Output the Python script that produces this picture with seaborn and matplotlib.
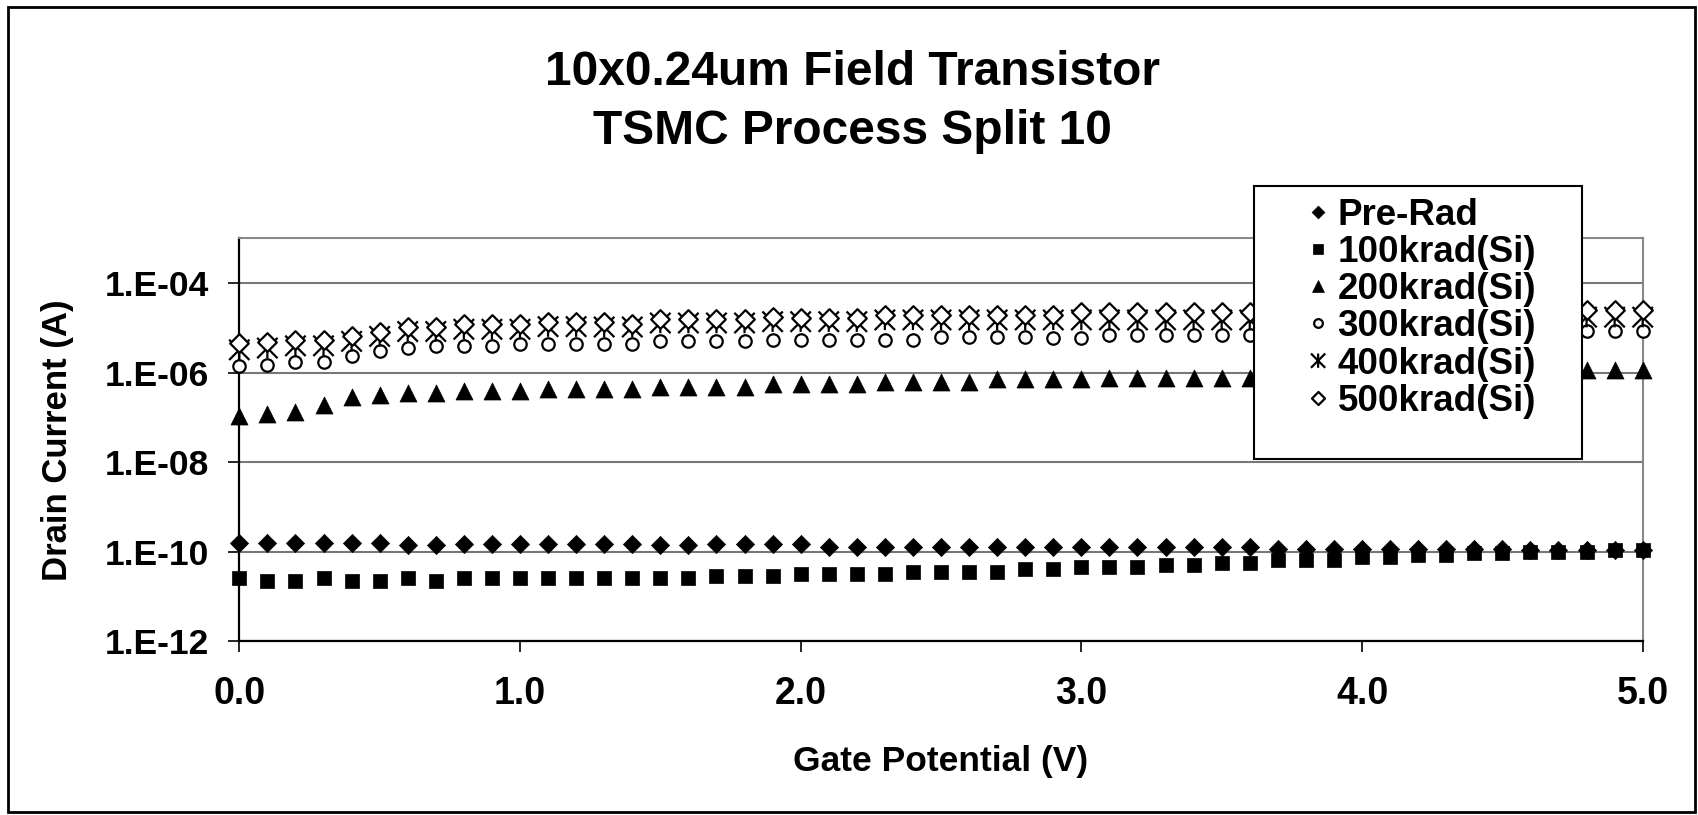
import numpy as np
import pandas as pd
import matplotlib
matplotlib.use("Agg")
import matplotlib.pyplot as plt
from matplotlib.path import Path
from matplotlib.patches import Rectangle
from matplotlib.ticker import NullLocator
import seaborn as sns

# ---------------- data ----------------
gate_v = [0.0, 0.1, 0.2, 0.3, 0.4, 0.5, 0.6, 0.7, 0.8, 0.9,
          1.0, 1.1, 1.2, 1.3, 1.4, 1.5, 1.6, 1.7, 1.8, 1.9,
          2.0, 2.1, 2.2, 2.3, 2.4, 2.5, 2.6, 2.7, 2.8, 2.9,
          3.0, 3.1, 3.2, 3.3, 3.4, 3.5, 3.6, 3.7, 3.8, 3.9,
          4.0, 4.1, 4.2, 4.3, 4.4, 4.5, 4.6, 4.7, 4.8, 4.9, 5.0]

pre_rad = [1.55e-10, 1.55e-10, 1.58e-10, 1.55e-10, 1.55e-10, 1.58e-10, 1.41e-10, 1.41e-10, 1.45e-10, 1.45e-10,
           1.45e-10, 1.45e-10, 1.45e-10, 1.45e-10, 1.45e-10, 1.41e-10, 1.41e-10, 1.45e-10, 1.45e-10, 1.45e-10,
           1.45e-10, 1.27e-10, 1.27e-10, 1.27e-10, 1.27e-10, 1.27e-10, 1.29e-10, 1.29e-10, 1.29e-10, 1.29e-10,
           1.29e-10, 1.29e-10, 1.29e-10, 1.29e-10, 1.29e-10, 1.29e-10, 1.29e-10, 1.12e-10, 1.12e-10, 1.12e-10,
           1.12e-10, 1.12e-10, 1.12e-10, 1.12e-10, 1.12e-10, 1.12e-10, 1.10e-10, 1.10e-10, 1.10e-10, 1.08e-10, 1.08e-10]

krad_100 = [2.51e-11, 2.24e-11, 2.24e-11, 2.51e-11, 2.24e-11, 2.24e-11, 2.51e-11, 2.24e-11, 2.51e-11, 2.51e-11,
            2.51e-11, 2.51e-11, 2.51e-11, 2.51e-11, 2.51e-11, 2.51e-11, 2.51e-11, 2.88e-11, 2.88e-11, 2.88e-11,
            3.16e-11, 3.16e-11, 3.16e-11, 3.16e-11, 3.55e-11, 3.55e-11, 3.55e-11, 3.55e-11, 4.07e-11, 4.07e-11,
            4.47e-11, 4.47e-11, 4.47e-11, 5.01e-11, 5.01e-11, 5.62e-11, 5.62e-11, 6.46e-11, 6.46e-11, 6.46e-11,
            7.41e-11, 7.41e-11, 8.51e-11, 8.51e-11, 9.12e-11, 9.12e-11, 1.00e-10, 1.00e-10, 1.00e-10, 1.10e-10, 1.10e-10]

krad_200 = [1.10e-7, 1.20e-7, 1.35e-7, 1.91e-7, 2.88e-7, 3.09e-7, 3.47e-7, 3.47e-7, 3.98e-7, 3.98e-7,
            3.98e-7, 4.37e-7, 4.37e-7, 4.37e-7, 4.37e-7, 4.90e-7, 4.90e-7, 4.90e-7, 4.90e-7, 5.62e-7,
            5.62e-7, 5.62e-7, 5.62e-7, 6.31e-7, 6.31e-7, 6.31e-7, 6.31e-7, 7.08e-7, 7.08e-7, 7.08e-7,
            7.08e-7, 7.59e-7, 7.59e-7, 7.59e-7, 7.59e-7, 7.59e-7, 7.59e-7, 7.9e-7, 8.1e-7, 8.3e-7,
            8.5e-7, 8.7e-7, 8.9e-7, 9.1e-7, 9.3e-7, 9.5e-7, 9.7e-7, 1.0e-6, 1.12e-6, 1.12e-6, 1.12e-6]

krad_300 = [1.38e-6, 1.51e-6, 1.74e-6, 1.74e-6, 2.40e-6, 3.09e-6, 3.55e-6, 3.89e-6, 3.89e-6, 3.98e-6,
            4.37e-6, 4.37e-6, 4.37e-6, 4.37e-6, 4.37e-6, 5.01e-6, 5.01e-6, 5.01e-6, 5.01e-6, 5.25e-6,
            5.25e-6, 5.25e-6, 5.25e-6, 5.37e-6, 5.37e-6, 6.17e-6, 6.17e-6, 6.17e-6, 6.17e-6, 5.89e-6,
            5.89e-6, 7.08e-6, 7.08e-6, 7.08e-6, 7.08e-6, 7.08e-6, 7.08e-6, 7.2e-6, 7.3e-6, 7.4e-6,
            7.6e-6, 7.7e-6, 7.8e-6, 8.0e-6, 8.1e-6, 8.3e-6, 8.4e-6, 8.6e-6, 8.71e-6, 8.71e-6, 8.71e-6]

krad_400 = [3.24e-6, 3.55e-6, 3.98e-6, 3.98e-6, 5.01e-6, 6.46e-6, 8.32e-6, 8.32e-6, 9.33e-6, 9.33e-6,
            9.33e-6, 1.07e-5, 1.07e-5, 1.05e-5, 1.05e-5, 1.29e-5, 1.29e-5, 1.29e-5, 1.29e-5, 1.38e-5,
            1.38e-5, 1.38e-5, 1.38e-5, 1.51e-5, 1.51e-5, 1.51e-5, 1.51e-5, 1.51e-5, 1.51e-5, 1.51e-5,
            1.51e-5, 1.51e-5, 1.51e-5, 1.51e-5, 1.51e-5, 1.51e-5, 1.51e-5, 1.53e-5, 1.55e-5, 1.57e-5,
            1.59e-5, 1.61e-5, 1.63e-5, 1.65e-5, 1.67e-5, 1.69e-5, 1.71e-5, 1.72e-5, 1.74e-5, 1.74e-5, 1.74e-5]

krad_500 = [4.57e-6, 4.79e-6, 5.37e-6, 5.37e-6, 6.76e-6, 8.32e-6, 1.07e-5, 1.05e-5, 1.20e-5, 1.20e-5,
            1.20e-5, 1.35e-5, 1.35e-5, 1.35e-5, 1.20e-5, 1.58e-5, 1.58e-5, 1.58e-5, 1.58e-5, 1.78e-5,
            1.70e-5, 1.70e-5, 1.70e-5, 1.95e-5, 1.95e-5, 1.95e-5, 1.95e-5, 1.95e-5, 1.95e-5, 1.95e-5,
            2.24e-5, 2.24e-5, 2.24e-5, 2.24e-5, 2.24e-5, 2.24e-5, 2.24e-5, 2.26e-5, 2.28e-5, 2.30e-5,
            2.32e-5, 2.34e-5, 2.36e-5, 2.38e-5, 2.40e-5, 2.42e-5, 2.44e-5, 2.46e-5, 2.51e-5, 2.51e-5, 2.51e-5]

series_labels = ["Pre-Rad", "100krad(Si)", "200krad(Si)", "300krad(Si)", "400krad(Si)", "500krad(Si)"]

x_ticks = [0.0, 1.0, 2.0, 3.0, 4.0, 5.0]
x_tick_labels = ["0.0", "1.0", "2.0", "3.0", "4.0", "5.0"]
y_ticks = [1e-12, 1e-10, 1e-8, 1e-6, 1e-4]
y_tick_labels = ["1.E-12", "1.E-10", "1.E-08", "1.E-06", "1.E-04"]

title_lines = ["10x0.24um Field Transistor", "TSMC Process Split 10"]
x_label = "Gate Potential (V)"
y_label = "Drain Current (A)"

# ---------------- style ----------------
sns.set_theme(style="white")
plt.rcParams['font.family'] = ['Liberation Sans', 'DejaVu Sans']
plt.rcParams['font.weight'] = 'bold'
plt.rcParams['axes.labelweight'] = 'bold'
plt.rcParams['text.color'] = 'black'
plt.rcParams['axes.labelcolor'] = 'black'
plt.rcParams['xtick.color'] = 'black'
plt.rcParams['ytick.color'] = 'black'

fig = plt.figure(figsize=(16.98, 8.15), dpi=100)
ax = fig.add_axes([0.14093, 0.21350, 0.82650, 0.49387])

# asterisk marker (X with vertical bar)
asterisk = Path([(-1, -1), (1, 1), (-1, 1), (1, -1), (0, -1), (0, 1)],
                [Path.MOVETO, Path.LINETO, Path.MOVETO, Path.LINETO, Path.MOVETO, Path.LINETO])

styles = [
    dict(marker="D", s=86, color="black", edgecolor="black", linewidth=0.5),
    dict(marker="s", s=100, color="black", edgecolor="black", linewidth=0.5),
    dict(marker="^", s=150, color="black", edgecolor="black", linewidth=0.5),
    dict(marker="o", s=80, color="white", edgecolor="black", linewidth=1.6),
    dict(marker=asterisk, s=215, color="none", edgecolor="black", linewidth=1.6),
    dict(marker="D", s=90, color="white", edgecolor="black", linewidth=1.6),
]
all_series = [pre_rad, krad_100, krad_200, krad_300, krad_400, krad_500]

for i, (vals, lab, st) in enumerate(zip(all_series, series_labels, styles)):
    sns.scatterplot(x=gate_v, y=vals, ax=ax, label=lab, clip_on=False,
                    zorder=3 + i, legend=False, **st)

ax.set_yscale("log")
ax.set_xlim(0, 5)
ax.set_ylim(1e-12, 1e-3)
ax.set_xticks(x_ticks)
ax.set_xticklabels(x_tick_labels)
ax.set_yticks(y_ticks)
ax.set_yticklabels(y_tick_labels)
ax.yaxis.set_minor_locator(NullLocator())
ax.xaxis.set_minor_locator(NullLocator())

ax.tick_params(axis="both", which="major", direction="out", length=8, width=1.2,
               color="black", left=True, bottom=True)
ax.tick_params(axis="x", pad=17, labelsize=27)
ax.tick_params(axis="y", pad=14, labelsize=25.5)

ax.grid(False)
ax.yaxis.grid(True, which="major", color="#777777", linewidth=1.5)
ax.set_axisbelow(True)

for side in ["left", "bottom"]:
    ax.spines[side].set_color("black")
    ax.spines[side].set_linewidth(1.6)
for side in ["top", "right"]:
    ax.spines[side].set_color("#888888")
    ax.spines[side].set_linewidth(1.5)

ax.set_xlabel(x_label, fontsize=25.5, fontweight="bold", va="center")
ax.xaxis.set_label_coords(0.5, -0.3006)
ax.set_ylabel(y_label, fontsize=25, fontweight="bold", va="center")
ax.yaxis.set_label_coords(-0.1292, 0.5)

# title
fig.text(0.502, 0.8963, title_lines[0], ha="center", va="baseline", fontsize=34.5, fontweight="bold")
fig.text(0.502, 0.8233, title_lines[1], ha="center", va="baseline", fontsize=34.5, fontweight="bold")

# legend box + legend
ax.add_patch(Rectangle((0.7230, 0.4522), 0.2337, 0.6782, transform=ax.transAxes,
                       facecolor="white", edgecolor="black", linewidth=1.5,
                       clip_on=False, zorder=10))
leg = ax.legend(loc="upper left", bbox_to_anchor=(0.7615, 1.1013), frameon=False,
                fontsize=26.5, markerscale=0.7, handlelength=0.55, handletextpad=0.25,
                labelspacing=0.06, borderpad=0, borderaxespad=0, scatteryoffsets=[0.5])
leg.set_zorder(11)
for t in leg.get_texts():
    t.set_fontweight("bold")

# outer chart frame
fig.patches.append(Rectangle((0.0047, 0.0037), 0.9935, 0.9877, transform=fig.transFigure,
                             fill=False, edgecolor="black", linewidth=2))

fig.savefig("out.png", dpi=100)
